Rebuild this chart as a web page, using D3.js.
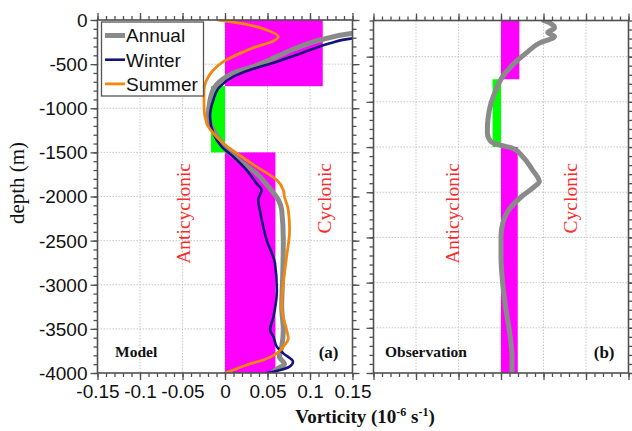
<!DOCTYPE html>
<html>
<head>
<meta charset="utf-8">
<script src="https://cdn.jsdelivr.net/npm/d3@7"></script>
<style>
  html, body { margin: 0; padding: 0; background: #fff; }
  svg { display: block; }
</style>
</head>
<body>
<svg id="chart" width="632" height="431"></svg>
<script>
// ---- Vorticity profiles (10^-6 s^-1) against depth (m) ----
const xTickValues = [-0.15, -0.1, -0.05, 0, 0.05, 0.1, 0.15];
const xTickLabels = ["-0.15", "-0.1", "-0.05", "0", "0.05", "0.1", "0.15"];
const yTickValues = [0, -500, -1000, -1500, -2000, -2500, -3000, -3500, -4000];
const yTickLabels = ["0", "-500", "-1000", "-1500", "-2000", "-2500", "-3000", "-3500", "-4000"];

// layer-mean vorticity: [top depth, bottom depth]
const layerTops = [0, -750, -1500];
const layerBottoms = [-750, -1500, -4000];
const modelLayerMean = [0.115, -0.0165, 0.0593];
const obsLayerMean = [0.0216, -0.0099, 0.0197];

// Model, annual mean
const annualDepth = [-110, -150, -227, -302, -415, -528, -585, -642, -755, -906, -1095, -1209, -1360, -1473, -1586, -1737, -1889, -2040, -2153, -2493, -2870, -3248, -3513, -3702, -3815, -3900, -3950, -4000];
const annualVort = [0.19, 0.15, 0.112, 0.088, 0.061, 0.033, 0.0137, 0.002, -0.0118, -0.0176, -0.0196, -0.0157, -0.006, 0.002, 0.0157, 0.037, 0.051, 0.063, 0.0667, 0.0686, 0.068, 0.0667, 0.0686, 0.0667, 0.064, 0.070, 0.062, 0.055];

// Model, winter
const winterDepth = [-190, -208, -264, -340, -397, -472, -567, -642, -755, -906, -1095, -1284, -1435, -1549, -1700, -1851, -1926, -2040, -2153, -2493, -2757, -3060, -3362, -3513, -3589, -3702, -3777, -3872, -3928, -3985, -4000];
const winterVort = [0.17, 0.15, 0.1235, 0.1, 0.084, 0.061, 0.029, 0.0098, -0.006, -0.0137, -0.0176, -0.0137, -0.004, 0.0098, 0.0255, 0.037, 0.043, 0.039, 0.041, 0.049, 0.0588, 0.061, 0.057, 0.053, 0.057, 0.061, 0.0686, 0.080, 0.076, 0.057, 0.049];

// Model, summer
const summerDepth = [0, -19, -57, -113, -189, -246, -302, -378, -472, -567, -680, -793, -982, -1171, -1284, -1397, -1510, -1662, -1813, -1926, -2002, -2153, -2380, -2682, -2983, -3248, -3513, -3607, -3702, -3777, -3853, -3909, -3966, -4000];
const summerVort = [-0.0078, 0.0059, 0.029, 0.049, 0.0627, 0.055, 0.037, 0.0176, -0.002, -0.0137, -0.0216, -0.0247, -0.0247, -0.0216, -0.0137, -0.002, 0.0137, 0.037, 0.061, 0.0686, 0.070, 0.0745, 0.076, 0.0725, 0.0686, 0.0667, 0.0725, 0.0745, 0.0686, 0.061, 0.045, 0.0255, 0.0098, 0.0];

// Observation, annual
const obsDepth = [-100, -130, -184, -233, -277, -350, -461, -572, -720, -868, -1015, -1164, -1292, -1348, -1441, -1477, -1514, -1607, -1754, -1884, -1940, -2050, -2198, -2345, -2493, -2715, -3010, -3306, -3527, -3675, -3823, -3989];
const obsVort = [0.05, 0.058, 0.063, 0.055, 0.063, 0.045, 0.0295, 0.0157, 0.002, -0.006, -0.0118, -0.015, -0.016, -0.016, -0.0118, -0.002, 0.0137, 0.0255, 0.037, 0.045, 0.039, 0.024, 0.009, 0.002, 0, 0, 0.002, 0.006, 0.0098, 0.0118, 0.013, 0.013];

const seriesNames = ["Annual", "Winter", "Summer"];
const seriesColors = ["#8a8a8a", "#14147a", "#f0880f"];
const seriesWidths = [5, 2.6, 2.8];

const svg = d3.select("#chart");
const axisColor = "#505050";
const serif = "'Liberation Serif', 'Times New Roman', serif";
const sans = "'Liberation Sans', Arial, sans-serif";

const zip = (ds, vs) => ds.map((d, i) => ({ d, v: vs[i] }));

function drawPanel(cfg) {
  const x = d3.scaleLinear().domain([-0.15, 0.15]).range([cfg.x0, cfg.x1]);
  const y = d3.scaleLinear().domain(cfg.yDomain).range([373, cfg.yTop]);
  const g = svg.append("g");
  const clipId = "clip-" + cfg.id;
  svg.append("clipPath").attr("id", clipId)
    .append("rect").attr("x", cfg.x0).attr("y", cfg.yTop)
    .attr("width", cfg.x1 - cfg.x0).attr("height", 373 - cfg.yTop);

  // grid
  const grid = g.append("g").attr("stroke", "#c8c8c8").attr("stroke-width", 1).attr("stroke-dasharray", "1.5,1.5");
  xTickValues.slice(1, -1).forEach(v => grid.append("line")
    .attr("x1", x(v)).attr("x2", x(v)).attr("y1", cfg.yTop).attr("y2", 373));
  yTickValues.filter(v => v > -4000 && v < cfg.yDomain[1]).forEach(v => grid.append("line")
    .attr("x1", cfg.x0).attr("x2", cfg.x1).attr("y1", y(v)).attr("y2", y(v)));

  // layer mean bars
  const bars = g.append("g").attr("clip-path", `url(#${clipId})`);
  cfg.layers.forEach((m, i) => {
    bars.append("rect")
      .attr("x", Math.min(x(0), x(m)))
      .attr("width", Math.abs(x(m) - x(0)))
      .attr("y", y(layerTops[i]))
      .attr("height", y(layerBottoms[i]) - y(layerTops[i]))
      .attr("fill", m >= 0 ? "#ff00ff" : "#00ff00");
  });

  // labels inside panel
  const lab = g.append("g").attr("font-family", serif).attr("fill", "#ff2a2a").attr("font-size", 19.5);
  lab.append("text").attr("transform", `translate(${cfg.antiX},163) rotate(-90)`)
    .attr("text-anchor", "end").text("Anticyclonic");
  lab.append("text").attr("transform", `translate(${cfg.cycX},163) rotate(-90)`)
    .attr("text-anchor", "end").text("Cyclonic");

  // profiles
  const line = d3.line().x(p => x(p.v)).y(p => y(p.d)).curve(d3.curveMonotoneY);
  const curves = g.append("g").attr("clip-path", `url(#${clipId})`)
    .attr("fill", "none").attr("stroke-linejoin", "round").attr("stroke-linecap", "round");
  cfg.series.forEach(s => {
    curves.append("path").attr("d", line(s.data))
      .attr("stroke", s.color).attr("stroke-width", s.width);
  });

  const note = g.append("g").attr("font-family", serif).attr("font-weight", "bold").attr("font-size", 15.5).attr("fill", "#111");
  note.append("text").attr("x", cfg.noteX).attr("y", 357).text(cfg.note);
  note.append("text").attr("x", cfg.x1 - 14).attr("y", 358).attr("text-anchor", "end").attr("font-size", 17).text(cfg.tag);

  // axes
  const minorX = d3.range(-15, 16).map(k => k / 100);
  const minorY = d3.range(0, 41).map(k => -k * 100).filter(v => v <= cfg.yDomain[1]);
  const axes = g.append("g");
  const mk = (axis, tr) => {
    const a = axes.append("g").attr("transform", tr).call(axis);
    a.select(".domain").remove();
    a.selectAll("line").attr("stroke", axisColor).attr("stroke-width", 1.3);
    a.selectAll("text").attr("font-family", sans).attr("font-size", 19).attr("fill", "#111");
    return a;
  };
  const fmt = (vals, labels) => v => labels[vals.findIndex(t => Math.abs(t - v) < 1e-9)];
  // minor ticks
  mk(d3.axisBottom(x).tickValues(minorX).tickSize(4).tickFormat(""), "translate(0,373)");
  mk(d3.axisTop(x).tickValues(minorX).tickSize(4).tickFormat(""), `translate(0,${cfg.yTop})`);
  mk(d3.axisLeft(y).tickValues(minorY).tickSize(4).tickFormat(""), `translate(${cfg.x0},0)`);
  mk(d3.axisRight(y).tickValues(minorY).tickSize(4).tickFormat(""), `translate(${cfg.x1},0)`);
  // major ticks
  mk(d3.axisBottom(x).tickValues(xTickValues).tickSize(7).tickPadding(5)
    .tickFormat(cfg.labels ? fmt(xTickValues, xTickLabels) : ""), "translate(0,373)");
  mk(d3.axisTop(x).tickValues(xTickValues).tickSize(7).tickFormat(""), `translate(0,${cfg.yTop})`);
  const yMajor = yTickValues.filter(v => v <= cfg.yDomain[1]);
  mk(d3.axisLeft(y).tickValues(yMajor).tickSize(7).tickPadding(3)
    .tickFormat(cfg.labels ? fmt(yTickValues, yTickLabels) : ""), `translate(${cfg.x0},0)`)
    .selectAll("text").attr("dy", "0.34em");
  mk(d3.axisRight(y).tickValues(yMajor).tickSize(7).tickFormat(""), `translate(${cfg.x1},0)`);

  axes.append("rect").attr("x", cfg.x0).attr("y", cfg.yTop)
    .attr("width", cfg.x1 - cfg.x0).attr("height", 373 - cfg.yTop)
    .attr("fill", "none").attr("stroke", axisColor).attr("stroke-width", 1.6);

  return { x, y, g };
}

const modelSeries = [
  zip(annualDepth, annualVort), zip(winterDepth, winterVort), zip(summerDepth, summerVort)
].map((data, i) => ({ data, color: seriesColors[i], width: seriesWidths[i], name: seriesNames[i] }));

const left = drawPanel({
  id: "a", x0: 97.5, x1: 352.5, yTop: 20, yDomain: [-4000, 0],
  layers: modelLayerMean, series: modelSeries, labels: true,
  antiX: 190, cycX: 331, note: "Model", noteX: 115, tag: "(a)"
});

drawPanel({
  id: "b", x0: 373.5, x1: 628.5, yTop: 20.5, yDomain: [-4000, -100],
  layers: obsLayerMean, series: [{ data: zip(obsDepth, obsVort), color: seriesColors[0], width: 5 }],
  labels: false, antiX: 459, cycX: 577, note: "Observation", noteX: 385, tag: "(b)"
});

// legend
const leg = svg.append("g");
leg.append("rect").attr("x", 101.5).attr("y", 22).attr("width", 102).attr("height", 74)
  .attr("fill", "#fff").attr("stroke", "#555").attr("stroke-width", 1.3);
modelSeries.forEach((s, i) => {
  const yy = 35.5 + i * 24.2;
  leg.append("line").attr("x1", 105).attr("x2", 125).attr("y1", yy).attr("y2", yy)
    .attr("stroke", s.color).attr("stroke-width", s.width);
  leg.append("text").attr("x", 126).attr("y", yy + 6.8).attr("font-family", sans)
    .attr("font-size", 19).attr("fill", "#111").text(s.name);
});

// axis titles
svg.append("text").attr("transform", "translate(24,183) rotate(-90)")
  .attr("text-anchor", "middle").attr("font-family", serif).attr("font-size", 21)
  .attr("fill", "#111").text("depth (m)");

const xt = svg.append("text").attr("x", 365).attr("y", 423).attr("text-anchor", "middle")
  .attr("font-family", serif).attr("font-weight", "bold").attr("font-size", 19).attr("fill", "#111");
xt.append("tspan").text("Vorticity (10");
xt.append("tspan").attr("font-size", 12).attr("dy", -7).text("-6");
xt.append("tspan").attr("dy", 7).text(" s");
xt.append("tspan").attr("font-size", 12).attr("dy", -7).text("-1");
xt.append("tspan").attr("dy", 7).text(")");
</script>
</body>
</html>
